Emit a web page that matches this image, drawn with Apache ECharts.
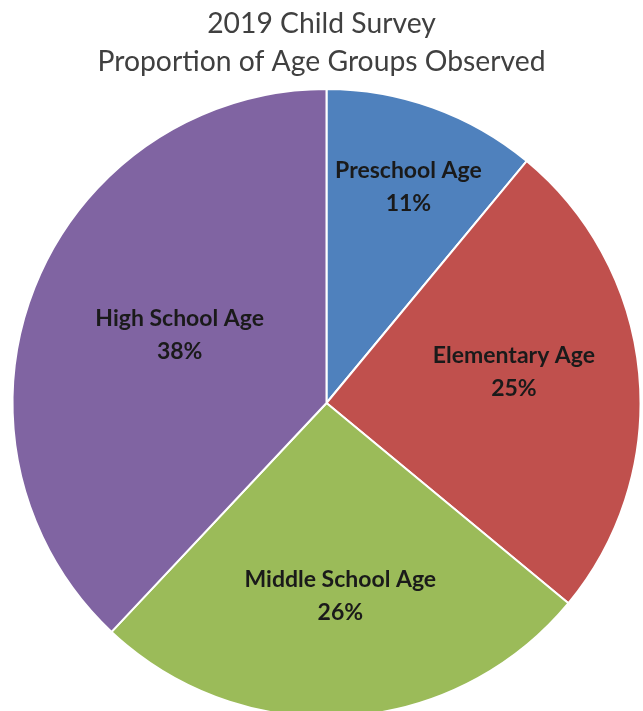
<!DOCTYPE html>
<html><head><meta charset="utf-8">
<script src="https://cdn.jsdelivr.net/npm/echarts@6/dist/echarts.min.js"></script>
<style>html,body{margin:0;padding:0;background:#fff}#c{width:643px;height:711px}</style>
</head><body><div id="c"></div>
<script>
const titleLines = ['2019 Child Survey', 'Proportion of Age Groups Observed'];
const categories = ['Preschool Age', 'Elementary Age', 'Middle School Age', 'High School Age'];
const values = [11, 25, 26, 38];
const colors = ['#4F81BD', '#C0504D', '#9BBB59', '#8064A2'];
// label placement styles: distance from centre as fraction of radius, angular shift in degrees
const labelRadius = [0.735, 0.605, 0.615, 0.515];
const labelAngleShift = [1, -4, -0.5, 3.2];

const CX = 326.5, CY = 403, R = 314;
const chart = echarts.init(document.getElementById('c'));
chart.setOption({
  animation: false,
  title: {
    text: titleLines.join('\n'), left: 'center', top: 0,
    textStyle: { fontFamily: 'Lato', fontWeight: 'normal', fontSize: 28.3, lineHeight: 38, color: '#404040' }
  },
  series: [{
    type: 'pie', center: [CX, CY], radius: R, startAngle: 90, clockwise: true,
    data: categories.map((n, i) => ({ name: n, value: values[i], itemStyle: { color: colors[i] } })),
    itemStyle: { borderColor: '#fff', borderWidth: 2 },
    label: {
      position: 'inside', formatter: p => p.name + '\n' + p.value + '%',
      fontFamily: 'Lato', fontWeight: 'bold', fontSize: 23, lineHeight: 33, color: '#1a1a1a'
    },
    labelLine: { show: false },
    labelLayout: function (p) {
      const tot = values.reduce((a, b) => a + b, 0);
      let before = 0; for (let k = 0; k < p.dataIndex; k++) before += values[k];
      const mid = (before + values[p.dataIndex] / 2) / tot * 2 * Math.PI + labelAngleShift[p.dataIndex] * Math.PI / 180;
      const r = labelRadius[p.dataIndex] * R;
      return { x: CX + r * Math.sin(mid), y: CY - r * Math.cos(mid), align: 'center', verticalAlign: 'middle' };
    }
  }]
});
</script></body></html>
